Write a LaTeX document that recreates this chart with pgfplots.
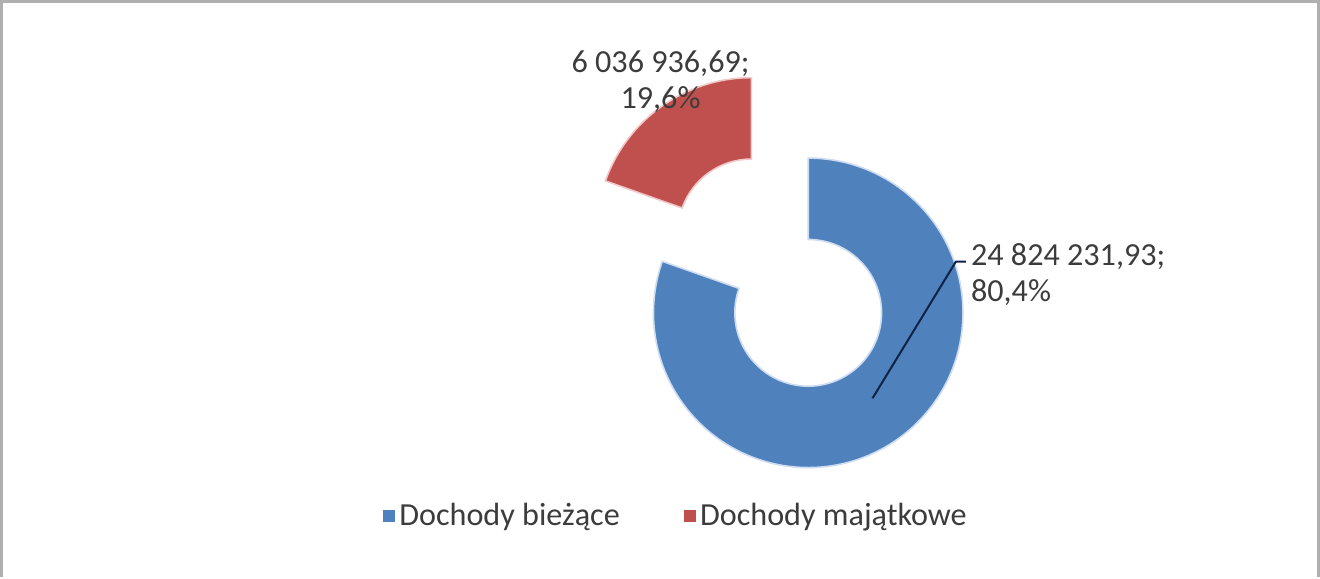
\documentclass[border=0pt]{standalone}
\usepackage{pgfplots}
\pgfplotsset{compat=1.18}
\usepackage{pgfplotstable}
\usepackage{fontspec}
\setmainfont{Carlito}

\definecolor{biez}{RGB}{79,129,189}
\definecolor{maj}{RGB}{192,80,77}
\definecolor{biezbrzeg}{RGB}{205,220,240}
\definecolor{majbrzeg}{RGB}{240,200,200}
\definecolor{linia}{RGB}{15,35,70}
\definecolor{txt}{RGB}{60,60,60}
\definecolor{ramka}{RGB}{175,175,175}

% udzialy w procentach (kwoty w etykietach)
\pgfplotstableread{
nazwa udzial
biez 80.4
maj 19.6
}\dochody

\pgfplotstablegetelem{0}{udzial}\of\dochody
\pgfmathsetmacro{\kat}{90-3.6*\pgfplotsretval}
\pgfmathsetmacro{\srodek}{90-3.6*\pgfplotsretval-0.5*(360-3.6*\pgfplotsretval)}

\begin{document}
\begin{tikzpicture}
\begin{axis}[
    width=660pt, height=291.5pt,
    scale only axis,
    xmin=0, xmax=1320, ymin=0, ymax=583,
    hide axis,
    clip=false,
    legend columns=2,
    legend style={draw=none, fill=none, font=\fontsize{16}{18}\selectfont\color{txt},
        at={(0.514,0.105)}, anchor=center,
        /tikz/every even column/.append style={column sep=30pt}},
    legend image code/.code={\fill[#1] (0pt,-3pt) rectangle (5.5pt,2.5pt);},
]
\addlegendimage{biez}
\addlegendentry{Dochody bieżące}
\addlegendimage{maj}
\addlegendentry{Dochody majątkowe}

% ramka
\draw[ramka, line width=1.3pt] (axis cs:6,0) -- (axis cs:6,573) -- (axis cs:1317,573) -- (axis cs:1317,0);

% pierscien: srodek (809,263), R=77pt, r=36.5pt
\fill[biez, draw=biezbrzeg, line width=0.8pt]
    (axis cs:809,263) ++(90:77pt) arc[start angle=90, end angle=\kat, radius=77pt]
    -- ++(\kat:-40.5pt) arc[start angle=\kat, end angle=90, radius=36.5pt] -- cycle;
\begin{scope}[shift={(\srodek:49pt)}]
\fill[maj, draw=majbrzeg, line width=0.8pt]
    (axis cs:809,263) ++(\kat:77pt) arc[start angle=\kat, end angle=-270, radius=77pt]
    -- ++(-270:-40.5pt) arc[start angle=-270, end angle=\kat, radius=36.5pt] -- cycle;
\end{scope}

% linia odniesienia
\draw[linia, line width=1pt]
    (axis cs:873,178) -- (axis cs:956,314) -- (axis cs:966,314);

% etykiety
\node[txt, align=center, font=\fontsize{16}{18}\selectfont] at (axis cs:662,493)
    {6 036 936,69;\\19,6\%};
\node[txt, align=left, anchor=west, font=\fontsize{16}{18}\selectfont] at (axis cs:964,301)
    {24 824 231,93;\\80,4\%};
\end{axis}
\end{tikzpicture}
\end{document}
